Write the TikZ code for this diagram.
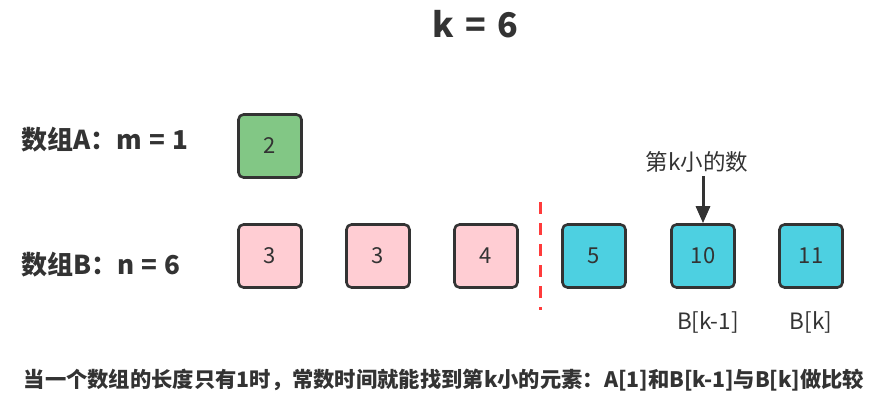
\documentclass[tikz,border=0pt]{standalone}
\usepackage{fontspec}
\setmainfont{Noto Sans CJK SC}
\usetikzlibrary{positioning,arrows.meta}

\definecolor{boxline}{HTML}{333333}
\definecolor{agreen}{HTML}{82C785}
\definecolor{bpink}{HTML}{FFCDD3}
\definecolor{bcyan}{HTML}{4DD0E1}
\definecolor{cutred}{HTML}{FF3B3B}

\begin{document}
\begin{tikzpicture}[x=1pt,y=-1pt,
  cell/.style={draw=boxline,line width=2.6pt,rounded corners=5pt,minimum size=63pt,inner sep=0pt,font=\fontsize{22}{26}\selectfont,text=boxline},
  lbl/.style={font=\fontsize{26}{30}\selectfont\bfseries,text=boxline,anchor=west},
  note/.style={font=\fontsize{22.5}{26}\selectfont,text=boxline}]
  \useasboundingbox (0,0) rectangle (892,412);
  \node[font=\fontsize{34}{38}\selectfont\bfseries,text=boxline] (title) at (475,24) {k\,\,=\,\,6};
  \node[lbl] (la) at (18,140) {数组A：m\hspace{7pt}=\hspace{7pt}1};
  \node[lbl] (lb) at (18,265) {数组B：n\hspace{7pt}=\hspace{7pt}6};
  \node[cell,fill=agreen] (a1) at (270,146) {2};
  \node[cell,fill=bpink] (b1) at (270,256) {3};
  \node[cell,fill=bpink] (b2) at (378,256) {3};
  \node[cell,fill=bpink] (b3) at (486,256) {4};
  \node[cell,fill=bcyan] (b4) at (594,256) {5};
  \node[cell,fill=bcyan] (b5) at (703,256) {10};
  \node[cell,fill=bcyan] (b6) at (811,256) {11};
  \coordinate (cut1) at (540,202);
  \coordinate (cut2) at (540,310);
  \draw[cutred,line width=3pt,dash pattern=on 12pt off 9pt] (cut1) -- (cut2);
  \node[note] (kth) at (697,162) {第k小的数};
  \draw[boxline,line width=3pt,-{Triangle[length=17pt,width=14pt]}] (703,176) -- (b5.north);
  \node[note] (bk1) at (708,322) {B[k-1]};
  \node[note] (bk) at (811,322) {B[k]};
  \node[font=\fontsize{21.3}{25}\selectfont\bfseries,text=boxline] (sum) at (444,380) {当一个数组的长度只有1时，常数时间就能找到第k小的元素：A[1]和B[k-1]与B[k]做比较};
\end{tikzpicture}
\end{document}
